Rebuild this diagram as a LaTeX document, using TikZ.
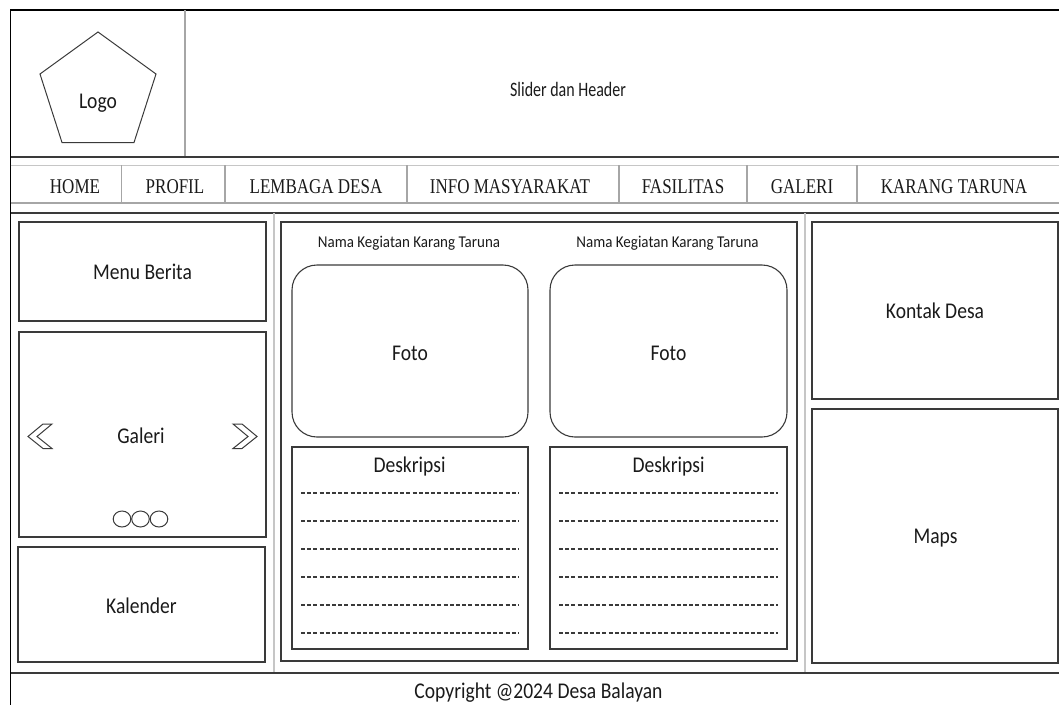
\documentclass[tikz,border=0pt]{standalone}
\usepackage{fontspec}
\setmainfont{Carlito}[FakeStretch=0.87]
\newfontfamily\navfont{Liberation Serif}[FakeStretch=0.81]
\newfontfamily\sliderfont{Carlito}[FakeStretch=0.78]
\newfontfamily\captionfont{Carlito}[FakeStretch=0.91]

\definecolor{boxline}{HTML}{3A3A3A}
\definecolor{softgray}{HTML}{A6A6A6}
\definecolor{palegray}{HTML}{C6C6C6}
\definecolor{inkgray}{HTML}{1A1A1A}

\tikzset{
  wirebox/.style={draw=boxline, line width=1.2pt},
  lbl/.style={text=inkgray, font=\fontsize{22.5}{26}\selectfont, text height=14.5pt, text depth=0pt},
  smalllbl/.style={text=inkgray, font=\captionfont\fontsize{16.5}{20}\selectfont, text height=10.6pt, text depth=0pt},
  navlbl/.style={text=inkgray, font=\navfont\fontsize{21}{25}\selectfont, text height=13.9pt, text depth=0pt},
  navsep/.style={draw=softgray, line width=1.2pt},
  colsep/.style={draw=palegray, line width=2pt},
  textline/.style={draw=boxline, line width=1.1pt, dash pattern=on 4pt off 2.2pt},
}

\begin{document}
\begin{tikzpicture}[x=1pt, y=-1pt]
  \clip (0,0) rectangle (1059,704);

  % Page frame
  \draw[black, line width=1.2pt] (10.5,10) rectangle (1075,720);

  % Header: logo and slider
  \draw[navsep] (185,10) -- (185,157);
  \draw[boxline, line width=1pt] (98,32) -- (156,74) -- (134,142.5) -- (62,142.5) -- (40,74) -- cycle;
  \node[lbl] (logo) at (98,101) {Logo};
  \node[lbl, font=\sliderfont\fontsize{20.5}{24}\selectfont, text height=13.2pt] (slider) at (568,90) {Slider dan Header};

  % Navigation bar
  \draw[boxline, line width=1.2pt] (10.5,157) -- (1075,157);
  \draw[palegray, line width=1pt] (10.5,165) -- (1075,165);
  \draw[softgray, line width=2pt] (10.5,203) -- (1075,203);
  \draw[boxline, line width=1.2pt] (10.5,213) -- (1075,213);

  \draw[navsep] (121.5,165) -- (121.5,203);
  \draw[navsep] (225,165) -- (225,203);
  \draw[navsep] (407,165) -- (407,203);
  \draw[navsep] (619,165) -- (619,203);
  \draw[navsep] (747,165) -- (747,203);
  \draw[navsep] (857,165) -- (857,203);

  \node[navlbl] (home) at (75,187) {HOME};
  \node[navlbl] (profil) at (175,187) {PROFIL};
  \node[navlbl] (lembaga) at (316,187) {LEMBAGA DESA};
  \node[navlbl] (info) at (510,187) {INFO MASYARAKAT};
  \node[navlbl] (fasilitas) at (683,187) {FASILITAS};
  \node[navlbl] (galerimenu) at (802,187) {GALERI};
  \node[navlbl] (taruna) at (954,187) {KARANG TARUNA};

  % Column separators and footer line
  \draw[colsep] (273.5,213) -- (273.5,673);
  \draw[colsep] (805,213) -- (805,673);
  \draw[boxline, line width=1.2pt] (10.5,673) -- (1075,673);

  % Left column
  \draw[wirebox] (19,222) rectangle (266,321);
  \node[lbl] (berita) at (142.5,272) {Menu Berita};

  \draw[wirebox] (19,332) rectangle (266,537);
  \node[lbl] (galeri) at (141,436.5) {Galeri};
  \draw[boxline, line width=1pt] (28,436.5) -- (43,424) -- (52,424) -- (37,436.5) -- (52,448.5) -- (43,448.5) -- cycle;
  \draw[boxline, line width=1pt] (257,436.5) -- (242,424) -- (233,424) -- (248,436.5) -- (233,448.5) -- (242,448.5) -- cycle;
  \draw[boxline, line width=1pt] (122,519) ellipse [x radius=8.8, y radius=8];
  \draw[boxline, line width=1pt] (140.5,519) ellipse [x radius=8.8, y radius=8];
  \draw[boxline, line width=1pt] (159,519) ellipse [x radius=8.8, y radius=8];

  \draw[wirebox] (18,547) rectangle (265,662);
  \node[lbl] (kalender) at (141.5,606) {Kalender};

  % Middle column: activities
  \draw[wirebox] (281,222) rectangle (797,661);

  \node[smalllbl] (namaA) at (409,242.5) {Nama Kegiatan Karang Taruna};
  \node[smalllbl] (namaB) at (667.5,242.5) {Nama Kegiatan Karang Taruna};

  \draw[wirebox, line width=1.1pt, rounded corners=25pt] (292,265) rectangle (528,437);
  \node[lbl] (fotoA) at (410,353) {Foto};
  \draw[wirebox, line width=1.1pt, rounded corners=25pt] (550,265) rectangle (787,437);
  \node[lbl] (fotoB) at (668.5,353) {Foto};

  \draw[wirebox] (292,447) rectangle (528,649);
  \node[lbl] (deskA) at (409.5,465) {Deskripsi};
  \draw[textline] (301,493) -- (519,493);
  \draw[textline] (301,521) -- (519,521);
  \draw[textline] (301,549) -- (519,549);
  \draw[textline] (301,577) -- (519,577);
  \draw[textline] (301,605) -- (519,605);
  \draw[textline] (301,633) -- (519,633);

  \draw[wirebox] (550,447) rectangle (787,649);
  \node[lbl] (deskB) at (668.5,465) {Deskripsi};
  \draw[textline] (559,493) -- (778,493);
  \draw[textline] (559,521) -- (778,521);
  \draw[textline] (559,549) -- (778,549);
  \draw[textline] (559,577) -- (778,577);
  \draw[textline] (559,605) -- (778,605);
  \draw[textline] (559,633) -- (778,633);

  % Right column
  \draw[wirebox] (812,222) rectangle (1058,399);
  \node[lbl] (kontak) at (935,311) {Kontak Desa};
  \draw[wirebox] (812,409) rectangle (1058,663);
  \node[lbl] (maps) at (935.5,536) {Maps};

  % Footer
  \node[lbl] (copyright) at (538.5,691) {Copyright @2024 Desa Balayan};
\end{tikzpicture}
\end{document}
